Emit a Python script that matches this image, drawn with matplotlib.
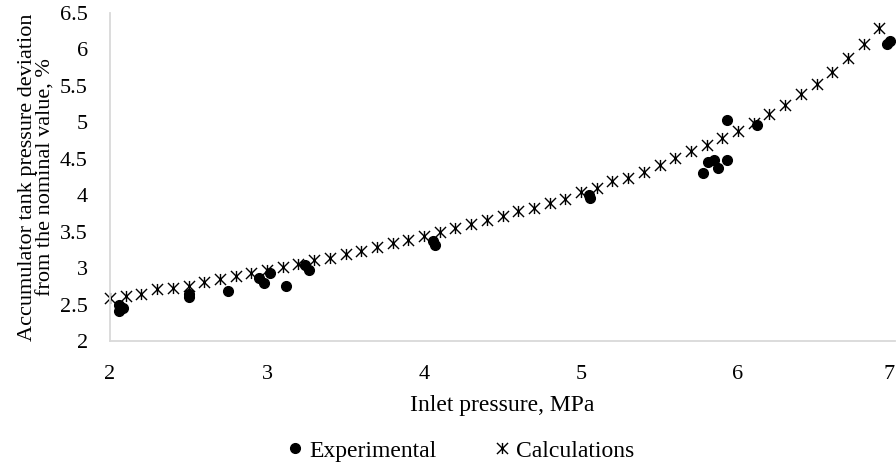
import matplotlib.pyplot as plt
import numpy as np
from matplotlib.path import Path

# Расчётные значения (шаг 0.1 МПа)
calc_p = [2.0, 2.1, 2.2, 2.3, 2.4, 2.5, 2.6, 2.7, 2.8, 2.9,
          3.0, 3.1, 3.2, 3.3, 3.4, 3.5, 3.6, 3.7, 3.8, 3.9,
          4.0, 4.1, 4.2, 4.3, 4.4, 4.5, 4.6, 4.7, 4.8, 4.9,
          5.0, 5.1, 5.2, 5.3, 5.4, 5.5, 5.6, 5.7, 5.8, 5.9,
          6.0, 6.1, 6.2, 6.3, 6.4, 6.5, 6.6, 6.7, 6.8, 6.9]
calc_dev = [2.59, 2.62, 2.64, 2.71, 2.73, 2.76, 2.81, 2.85, 2.89, 2.93,
            2.97, 3.01, 3.06, 3.11, 3.14, 3.20, 3.24, 3.29, 3.34, 3.39,
            3.44, 3.50, 3.55, 3.61, 3.66, 3.71, 3.79, 3.83, 3.89, 3.95,
            4.04, 4.10, 4.19, 4.24, 4.32, 4.41, 4.51, 4.60, 4.69, 4.78,
            4.88, 4.99, 5.12, 5.24, 5.39, 5.53, 5.69, 5.88, 6.08, 6.30]

# Экспериментальные точки
exp_p = [2.06, 2.08, 2.06, 2.50, 2.50, 2.75, 2.95, 2.98, 3.02, 3.12,
         3.24, 3.27, 4.06, 4.07, 5.05, 5.06, 5.78, 5.81, 5.85, 5.87,
         5.93, 5.93, 6.12, 6.95, 6.97]
exp_dev = [2.50, 2.45, 2.41, 2.64, 2.60, 2.68, 2.86, 2.79, 2.93, 2.76,
           3.04, 2.98, 3.37, 3.32, 4.00, 3.96, 4.30, 4.45, 4.49, 4.38,
           4.49, 5.03, 4.97, 6.08, 6.11]

x_ticks = [2, 3, 4, 5, 6, 7]
y_ticks = [2, 2.5, 3, 3.5, 4, 4.5, 5, 5.5, 6, 6.5]
y_tick_labels = ['2', '2.5', '3', '3.5', '4', '4.5', '5', '5.5', '6', '6.5']

plt.rcParams['font.family'] = ['Liberation Serif', 'DejaVu Serif']

# Маркер "звёздочка" как в Excel: крест + вертикальная черта
star = Path([(-1, -1), (1, 1), (-1, 1), (1, -1), (0, -1), (0, 1)],
            [Path.MOVETO, Path.LINETO, Path.MOVETO, Path.LINETO,
             Path.MOVETO, Path.LINETO])

fig = plt.figure(figsize=(8.96, 4.65), dpi=100)
ax = fig.add_axes([110 / 896, 1 - 341 / 465, 785 / 896, 328 / 465])

ax.plot(exp_p, exp_dev, linestyle='none', marker='o', markersize=7,
        color='black', label='Experimental', zorder=3, clip_on=False)
ax.plot(calc_p, calc_dev, linestyle='none', marker=star, markersize=8,
        markeredgewidth=1.0, color='black', label='Calculations', zorder=2,
        clip_on=False)

ax.set_xlim(2, 7)
ax.set_ylim(2, 6.5)
ax.set_xticks(x_ticks)
ax.set_xticklabels([str(t) for t in x_ticks])
ax.get_xticklabels()[-1].set_horizontalalignment('right')
ax.set_yticks(y_ticks)
ax.set_yticklabels(y_tick_labels)
ax.tick_params(length=0, labelsize=16, colors='black')
ax.tick_params(axis='x', pad=17)
ax.tick_params(axis='y', pad=16)

for side in ['top', 'right']:
    ax.spines[side].set_visible(False)
for side in ['left', 'bottom']:
    ax.spines[side].set_color('#d9d9d9')
    ax.spines[side].set_linewidth(1.3)

ax.set_xlabel('Inlet pressure, MPa', fontsize=17, labelpad=8)
fig.text(37 / 896, 1 - 177 / 465,
         'Accumulator tank pressure deviation\nfrom the nominal value, %',
         rotation=90, ha='center', va='center', multialignment='center',
         fontsize=16, linespacing=1.0)

fig.legend(*ax.get_legend_handles_labels(), loc='center',
           bbox_to_anchor=(460 / 896, 1 - 451 / 465), ncol=2,
           frameon=False, fontsize=17, handletextpad=0.2, columnspacing=2.4,
           handlelength=0.8, borderpad=0, borderaxespad=0)

plt.savefig('out.png', dpi=100)
